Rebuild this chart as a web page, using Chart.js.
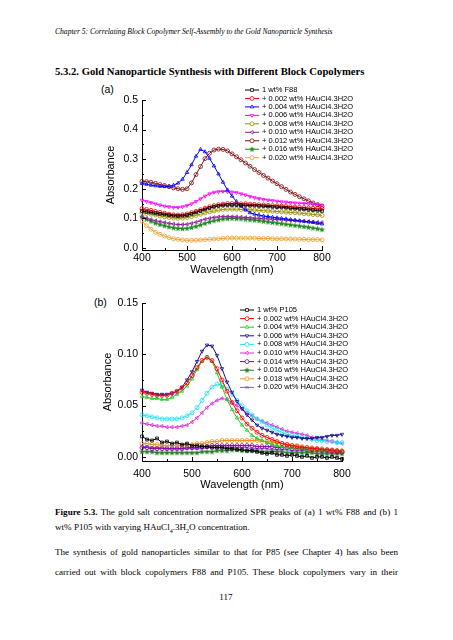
<!DOCTYPE html>
<html>
<head>
<meta charset="utf-8">
<title>Figure 5.3</title>
<script src="https://cdn.jsdelivr.net/npm/chart.js@4.4.1/dist/chart.umd.min.js"></script>
<style>
    body { margin: 0; width: 453px; height: 640px; background: #fff; position: relative; overflow: hidden;
           font-family: "Liberation Serif", "Times New Roman", serif; color: #000; }
    .txt { position: absolute; white-space: nowrap; }
    .line { position: absolute; left: 55px; width: 343px; font-size: 9.1px; line-height: 12px;
            text-align: justify; text-align-last: justify; white-space: nowrap; }
    .lbl { position: absolute; font-family: "Liberation Sans", Arial, sans-serif; font-size: 10.5px; line-height: 12px; }
    canvas { position: absolute; left: 0; }
</style>
</head>
<body>

<div class="txt" id="hdr" style="left:55px; top:27px; font-size:8.5px; line-height:10px; font-style:italic;">Chapter 5: Correlating Block Copolymer Self-Assembly to the Gold Nanoparticle Synthesis</div>
<div class="txt" id="head" style="left:55px; top:64px; font-size:12.5px; line-height:14px; font-weight:bold;">5.3.2. Gold Nanoparticle Synthesis with Different Block Copolymers</div>

<div class="lbl" style="left:101px; top:83px;">(a)</div>
<div class="lbl" style="left:94px; top:296px;">(b)</div>

<canvas id="chartA" width="453" height="200" style="top:80px;"></canvas>
<canvas id="chartB" width="453" height="210" style="top:285px;"></canvas>

<div class="line" style="top:506px;"><b>Figure 5.3.</b> The gold salt concentration normalized SPR peaks of (a) 1 wt% F88 and (b) 1</div>
<div class="txt" style="left:55px; top:521px; font-size:9.1px; line-height:12px;">wt% P105 with varying HAuCl<sub style="font-size:6px; line-height:0;">4</sub>.3H<sub style="font-size:6px; line-height:0;">2</sub>O concentration.</div>
<div class="line" style="top:546px;">The synthesis of gold nanoparticles similar to that for P85 (see Chapter 4) has also been</div>
<div class="line" style="top:566px;">carried out with block copolymers F88 and P105. These block copolymers vary in their</div>
<div class="txt" style="left:206px; width:40px; top:591px; font-size:9.1px; line-height:12px; text-align:center;">117</div>

<script>
// Wavelength axis (nm), one marker every 10 nm
var wavelengths = [400, 410, 420, 430, 440, 450, 460, 470, 480, 490,
                   500, 510, 520, 530, 540, 550, 560, 570, 580, 590,
                   600, 610, 620, 630, 640, 650, 660, 670, 680, 690,
                   700, 710, 720, 730, 740, 750, 760, 770, 780, 790, 800];
var xTickLabels = [400, 500, 600, 700, 800];
var yTicksA = [0, 0.1, 0.2, 0.3, 0.4, 0.5];
var yTicksB = [0, 0.05, 0.10, 0.15];

// (a) 1 wt% F88 series
var labelsA = ['1 wt% F88', '+ 0.002 wt% HAuCl4.3H2O', '+ 0.004 wt% HAuCl4.3H2O', '+ 0.006 wt% HAuCl4.3H2O',
               '+ 0.008 wt% HAuCl4.3H2O', '+ 0.010 wt% HAuCl4.3H2O', '+ 0.012 wt% HAuCl4.3H2O',
               '+ 0.016 wt% HAuCl4.3H2O', '+ 0.020 wt% HAuCl4.3H2O'];
var a_f88 = [.125, .122, .120, .117, .115, .113, .111, .109, .108, .109,
             .111, .115, .120, .125, .130, .135, .139, .142, .144, .145,
             .145, .145, .145, .144, .143, .143, .142, .141, .140, .139,
             .138, .137, .136, .134, .133, .132, .131, .129, .128, .126, .125];
var a_002 = [.133, .130, .127, .123, .120, .117, .114, .112, .111, .112,
             .115, .119, .124, .129, .134, .139, .143, .146, .148, .150,
             .150, .150, .149, .149, .148, .147, .146, .145, .144, .143,
             .142, .141, .140, .139, .138, .137, .136, .135, .134, .134, .133];
var a_004 = [.218, .215, .212, .210, .208, .207, .208, .212, .219, .232,
             .255, .281, .310, .333, .325, .303, .277, .250, .222, .196,
             .175, .157, .141, .129, .119, .114, .111, .108, .106, .104,
             .102, .100, .098, .096, .094, .092, .090, .088, .086, .083, .081];
var a_006 = [.161, .157, .153, .149, .145, .141, .139, .137, .137, .139,
             .143, .149, .157, .166, .175, .183, .188, .190, .191, .190,
             .189, .187, .183, .179, .174, .170, .167, .164, .162, .160,
             .158, .156, .155, .153, .152, .151, .150, .149, .148, .147, .145];
var a_008 = [.120, .117, .114, .111, .108, .105, .103, .101, .100, .101,
             .103, .106, .110, .114, .118, .122, .125, .128, .130, .131,
             .131, .131, .130, .130, .129, .128, .127, .126, .125, .124,
             .123, .122, .121, .120, .119, .118, .116, .115, .113, .112, .110];
var a_010 = [.105, .100, .096, .092, .089, .086, .083, .081, .079, .079,
             .080, .083, .087, .092, .097, .100, .103, .105, .106, .106,
             .106, .105, .104, .103, .102, .101, .100, .099, .098, .097,
             .096, .095, .094, .093, .092, .091, .090, .089, .088, .087, .086];
var a_012 = [.225, .224, .222, .218, .214, .211, .207, .203, .200, .198,
             .200, .220, .248, .275, .302, .320, .331, .334, .333, .328,
             .318, .308, .298, .287, .276, .265, .255, .245, .236, .226,
             .217, .207, .198, .189, .181, .173, .166, .159, .152, .146, .140];
var a_016 = [.105, .097, .090, .084, .079, .075, .071, .068, .066, .065,
             .066, .069, .073, .078, .083, .088, .092, .095, .098, .099,
             .100, .099, .098, .097, .095, .094, .092, .090, .088, .086,
             .084, .082, .080, .078, .076, .074, .072, .070, .067, .065, .062];
var a_020 = [.090, .075, .063, .053, .046, .040, .035, .031, .029, .027,
             .026, .026, .026, .027, .028, .029, .030, .031, .032, .033,
             .033, .033, .033, .033, .033, .033, .032, .032, .032, .031,
             .031, .031, .030, .030, .030, .029, .029, .028, .028, .028, .027];

// (b) 1 wt% P105 series
var labelsB = ['1 wt% P105', '+ 0.002 wt% HAuCl4.3H2O', '+ 0.004 wt% HAuCl4.3H2O', '+ 0.006 wt% HAuCl4.3H2O',
               '+ 0.008 wt% HAuCl4.3H2O', '+ 0.010 wt% HAuCl4.3H2O', '+ 0.014 wt% HAuCl4.3H2O',
               '+ 0.016 wt% HAuCl4.3H2O', '+ 0.018 wt% HAuCl4.3H2O', '+ 0.020 wt% HAuCl4.3H2O'];
var b_p105 = [.020, .017, .016, .018, .014, .015, .013, .014, .012, .013,
              .011, .011, .010, .010, .009, .009, .009, .008, .008, .007,
              .007, .006, .006, .005, .004, .003, .004, .002, .002, .001,
              .002, .001, .000, .001, -.001, .000, .000, -.001, .000, -.001, -.002];
var b_002 = [.063, .062, .061, .060, .060, .060, .062, .064, .067, .072,
             .079, .087, .094, .097, .094, .086, .075, .064, .053, .045,
             .038, .032, .028, .024, .021, .019, .017, .015, .013, .012,
             .011, .010, .009, .009, .008, .008, .007, .007, .006, .006, .005];
var b_004 = [.059, .058, .057, .057, .056, .056, .058, .061, .064, .069,
             .076, .085, .093, .097, .093, .082, .068, .056, .046, .038,
             .031, .026, .021, .018, .016, .014, .012, .011, .010, .009,
             .009, .008, .008, .007, .007, .007, .006, .006, .006, .006, .006];
var b_006 = [.065, .063, .062, .061, .061, .061, .062, .064, .068, .075,
             .083, .093, .103, .109, .108, .099, .086, .073, .063, .054,
             .047, .041, .036, .031, .028, .026, .024, .022, .021, .020,
             .019, .019, .018, .018, .018, .019, .019, .020, .021, .021, .022];
var b_008 = [.041, .040, .039, .038, .037, .037, .037, .037, .038, .040,
             .043, .048, .055, .062, .068, .071, .070, .066, .061, .055,
             .050, .045, .041, .037, .034, .031, .028, .026, .024, .022,
             .021, .020, .019, .018, .017, .016, .016, .015, .015, .014, .014];
var b_010 = [.033, .032, .031, .030, .030, .029, .029, .029, .030, .031,
             .034, .038, .043, .048, .052, .055, .057, .056, .053, .050,
             .047, .043, .040, .037, .035, .033, .031, .029, .027, .025,
             .024, .023, .022, .021, .019, .018, .017, .016, .015, .014, .013];
var b_014 = [.009, .009, .008, .008, .008, .008, .008, .008, .008, .009,
             .009, .009, .010, .010, .011, .011, .011, .011, .011, .011,
             .011, .011, .011, .010, .010, .010, .010, .009, .009, .009,
             .008, .008, .008, .007, .007, .007, .006, .006, .006, .005, .005];
var b_016 = [.005, .005, .005, .004, .004, .004, .004, .004, .004, .004,
             .004, .004, .005, .005, .005, .006, .006, .006, .007, .007,
             .006, .006, .006, .006, .005, .005, .005, .005, .005, .004,
             .004, .004, .004, .004, .004, .003, .003, .003, .003, .003, .003];
var b_018 = [.013, .013, .012, .012, .011, .011, .011, .011, .011, .012,
             .012, .013, .013, .014, .015, .015, .016, .016, .016, .016,
             .016, .016, .016, .016, .015, .015, .014, .014, .013, .012,
             .011, .011, .010, .009, .009, .008, .008, .007, .007, .006, .006];
var b_020 = [.010, .010, .009, .009, .009, .008, .008, .008, .008, .008,
             .008, .008, .008, .009, .009, .009, .009, .009, .009, .009,
             .009, .009, .008, .008, .008, .008, .007, .007, .007, .007,
             .006, .006, .006, .006, .005, .005, .005, .005, .004, .004, .004];

Chart.defaults.font.family = '"Liberation Sans", Arial, sans-serif';
Chart.defaults.color = '#000';

// Filled five point star, used as a marker (Origin style)
function starMarker(color) {
    var c = document.createElement('canvas');
    c.width = 7; c.height = 7;
    var g = c.getContext('2d');
    g.fillStyle = color;
    g.beginPath();
    for (var i = 0; i < 10; i++) {
        var r = (i % 2 === 0) ? 3.2 : 1.3;
        var a = -Math.PI / 2 + i * Math.PI / 5;
        g.lineTo(3.5 + r * Math.cos(a), 3.6 + r * Math.sin(a));
    }
    g.closePath();
    g.fill();
    return c;
}

// Build one dataset from a values array
function series(label, values, color, style, rotation) {
    return {
        label: label,
        data: wavelengths.map(function (w, i) { return { x: w, y: values[i] }; }),
        borderColor: color,
        backgroundColor: color,
        borderWidth: 1,
        pointStyle: style,
        rotation: rotation || 0,
        pointRadius: 2,
        pointBorderWidth: 0.8,
        pointBorderColor: color,
        pointBackgroundColor: 'rgba(255,255,255,0)',
        tension: 0,
        clip: 6
    };
}

// Legend drawn inside the plot, like the Origin graph
var insideLegend = {
    id: 'insideLegend',
    afterDraw: function (chart, args, opts) {
        var ctx = chart.ctx;
        ctx.save();
        ctx.font = opts.fontSize + 'px "Liberation Sans", Arial, sans-serif';
        ctx.textBaseline = 'middle';
        chart.data.datasets.forEach(function (ds, i) {
            var y = opts.y + i * opts.rowGap;
            ctx.strokeStyle = ds.borderColor;
            ctx.lineWidth = 1;
            ctx.beginPath();
            ctx.moveTo(opts.x, y);
            ctx.lineTo(opts.x + opts.lineLen, y);
            ctx.stroke();
            ctx.fillStyle = '#fff';
            ctx.strokeStyle = ds.borderColor;
            ctx.lineWidth = ds.pointBorderWidth;
            Chart.helpers.drawPoint(ctx, {
                pointStyle: ds.pointStyle, rotation: ds.rotation,
                radius: ds.pointRadius, borderWidth: ds.pointBorderWidth
            }, opts.x + opts.lineLen / 2, y);
            ctx.fillStyle = '#000';
            ctx.fillText(ds.label, opts.x + opts.lineLen + opts.gap, y);
        });
        ctx.restore();
    }
};

// Inward major and minor ticks on the left and bottom axes
var inwardTicks = {
    id: 'inwardTicks',
    afterDraw: function (chart, args, opts) {
        var ctx = chart.ctx, xs = chart.scales.x, ys = chart.scales.y, area = chart.chartArea;
        ctx.save();
        ctx.strokeStyle = '#000';
        ctx.lineWidth = 1;
        ctx.beginPath();
        for (var v = 400; v <= 800; v += 50) {
            var px = Math.round(xs.getPixelForValue(v)) + 0.5;
            var len = (v % 100 === 0) ? 4 : 2;
            ctx.moveTo(px, area.bottom);
            ctx.lineTo(px, area.bottom - len);
        }
        for (var k = 0; k <= opts.yCount * 2; k++) {
            var val = k * opts.yStep / 2;
            var py = Math.round(ys.getPixelForValue(val)) + 0.5;
            var l = (k % 2 === 0) ? 4 : 2;
            ctx.moveTo(area.left, py);
            ctx.lineTo(area.left + l, py);
        }
        ctx.stroke();
        ctx.restore();
    }
};

function makeChart(id, datasets, cfg) {
    return new Chart(document.getElementById(id), {
        type: 'line',
        data: { datasets: datasets },
        plugins: [insideLegend, inwardTicks],
        options: {
            responsive: false,
            animation: false,
            layout: { padding: { top: cfg.top, right: cfg.right, left: 0, bottom: 0 } },
            scales: {
                x: {
                    type: 'linear', min: 400, max: 800,
                    afterBuildTicks: function (s) { s.ticks = xTickLabels.map(function (v) { return { value: v }; }); },
                    afterFit: function (s) { s.height = cfg.xHeight; },
                    grid: { drawOnChartArea: false, drawTicks: false },
                    border: { display: true, color: '#000', width: 1 },
                    ticks: { padding: cfg.xPad, font: { size: 10.5 }, maxRotation: 0 },
                    title: { display: true, text: 'Wavelength (nm)', font: { size: 11 }, padding: { top: 0, bottom: cfg.xTitlePad } }
                },
                y: {
                    type: 'linear', min: cfg.yMin, max: cfg.yMax,
                    afterBuildTicks: function (s) { s.ticks = cfg.yTicks.map(function (v) { return { value: v }; }); },
                    afterFit: function (s) { s.width = 142; },
                    grid: { drawOnChartArea: false, drawTicks: false },
                    border: { display: true, color: '#000', width: 1 },
                    ticks: { padding: 4, font: { size: 10.5 },
                             callback: function (v) { return v.toFixed(cfg.digits); } },
                    title: { display: true, text: 'Absorbance', font: { size: 11 }, padding: { top: cfg.yTitlePad, bottom: 0 } }
                }
            },
            plugins: {
                legend: { display: false },
                tooltip: { enabled: false },
                insideLegend: cfg.legend,
                inwardTicks: { yStep: cfg.yTicks[1], yCount: cfg.yTicks.length - 1 }
            }
        }
    });
}

// Chart (a)
makeChart('chartA', [
    series(labelsA[0], a_f88, '#000000', 'rect'),
    series(labelsA[1], a_002, '#ff0000', 'circle'),
    series(labelsA[2], a_004, '#0000ff', 'triangle'),
    series(labelsA[3], a_006, '#ff00ff', 'triangle', 180),
    series(labelsA[4], a_008, '#999000', 'circle'),
    series(labelsA[5], a_010, '#8a1f9a', 'triangle', 270),
    series(labelsA[6], a_012, '#801010', 'circle'),
    series(labelsA[7], a_016, '#1f8a1f', starMarker('#1f8a1f')),
    series(labelsA[8], a_020, '#f0a030', 'circle')
], {
    top: 20, right: 131, xHeight: 30, xPad: 2, xTitlePad: 3.5, yTitlePad: 104.5,
    yMin: -0.007, yMax: 0.5, yTicks: yTicksA, digits: 1,
    legend: { x: 245, y: 10, rowGap: 8.46, lineLen: 14, gap: 3, fontSize: 7.5 }
});

// Chart (b)
makeChart('chartB', [
    series(labelsB[0], b_p105, '#000000', 'rect'),
    series(labelsB[1], b_002, '#ff0000', 'circle'),
    series(labelsB[2], b_004, '#22cc22', 'triangle'),
    series(labelsB[3], b_006, '#101090', 'triangle', 180),
    series(labelsB[4], b_008, '#22e0ee', 'circle'),
    series(labelsB[5], b_010, '#e030e0', 'triangle', 270),
    series(labelsB[6], b_014, '#8000a0', 'circle'),
    series(labelsB[7], b_016, '#2a7a2a', starMarker('#2a7a2a')),
    series(labelsB[8], b_018, '#f09020', 'circle'),
    series(labelsB[9], b_020, '#a040e0', 'crossRot')
], {
    top: 18, right: 111, xHeight: 34, xPad: 7, xTitlePad: 3, yTitlePad: 101.5,
    yMin: -0.004, yMax: 0.15, yTicks: yTicksB, digits: 2,
    legend: { x: 240, y: 25, rowGap: 8.6, lineLen: 14, gap: 3, fontSize: 7.5 }
});

// Fit the header lines to their widths on the page
function fitWidth(id, w) {
    var el = document.getElementById(id);
    var fs = parseFloat(getComputedStyle(el).fontSize);
    el.style.fontSize = (fs * w / el.getBoundingClientRect().width) + 'px';
}
fitWidth('hdr', 278);
fitWidth('head', 310);
</script>
</body>
</html>
